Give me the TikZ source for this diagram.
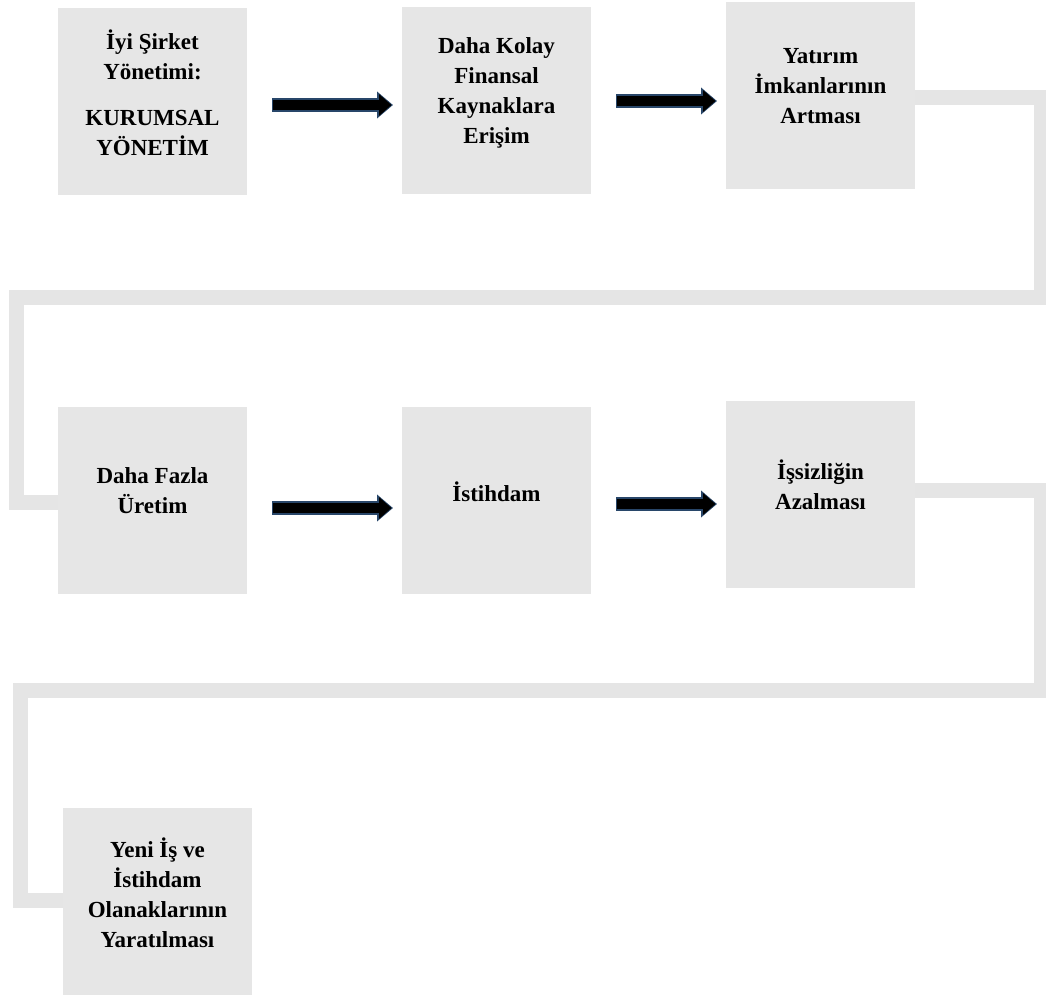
\documentclass[tikz,border=0pt]{standalone}
\usepackage{fontspec}
\setmainfont{Liberation Serif}
\usetikzlibrary{arrows.meta}
\definecolor{boxgray}{RGB}{230,230,230}
\definecolor{linkgray}{RGB}{229,229,229}
\definecolor{arrowedge}{RGB}{40,70,105}
\begin{document}
\begin{tikzpicture}[x=1pt,y=-1pt,
  stage/.style={rectangle, fill=boxgray, draw=none, minimum width=189pt,
    minimum height=187pt, inner sep=0pt, outer sep=0pt},
  caption/.style={align=center, inner sep=0pt,
    font=\fontsize{23}{30}\selectfont\bfseries},
  link/.style={draw=linkgray, line width=15pt, line join=miter},
  flowedge/.style={draw=arrowedge, line width=13.5pt,
    -{Triangle[width=26pt,length=16pt]}, shorten <=25pt, shorten >=9pt},
  flowcore/.style={draw=black, line width=10pt,
    -{Triangle[width=21pt,length=12.5pt]}, shorten <=26pt, shorten >=10.5pt}]
\useasboundingbox (0,0) rectangle (1046,999);

% stages
\node[stage] (b1) at (152.5,101.5) {};
\node[stage] (b2) at (496.5,100) {};
\node[stage] (b3) at (820.5,95.5) {};
\node[stage] (b4) at (152.5,500.5) {};
\node[stage] (b5) at (496.5,500.5) {};
\node[stage] (b6) at (820.5,494) {};
\node[stage] (b7) at (157.5,901.5) {};

% captions
\node[caption] (t1) at ([yshift=9pt]b1.center) {İyi Şirket\\Yönetimi:\\[16pt]KURUMSAL\\YÖNETİM};
\node[caption] (t2) at ([yshift=7pt]b2.center) {Daha Kolay\\Finansal\\Kaynaklara\\Erişim};
\node[caption] (t3) at ([yshift=9pt]b3.center) {Yatırım\\İmkanlarının\\Artması};
\node[caption] (t4) at ([yshift=10pt]b4.center) {Daha Fazla\\Üretim};
\node[caption] (t5) at ([yshift=9pt]b5.center) {İstihdam};
\node[caption] (t6) at ([yshift=9pt]b6.center) {İşsizliğin\\Azalması};
\node[caption] (t7) at ([yshift=9pt]b7.center) {Yeni İş ve\\İstihdam\\Olanaklarının\\Yaratılması};

% wrap-around links between rows
\draw[link] ([yshift=-1.5pt]b3.east) -- (1041,97) -- (1041,297) -- (16,297)
  -- (16,502) -- (b4.west |- 0,502);
\draw[link] ([yshift=4pt]b6.east) -- (1041,490) -- (1041,690) -- (20,690)
  -- (20,900) -- (b7.west |- 0,900);

% arrows within rows
\foreach \a/\b/\dy in {b1/b2/-3.5, b2/b3/-1, b4/b5/-7.5, b5/b6/-3.5} {
  \draw[flowedge] ([yshift=\dy pt]\a.east) -- ([yshift=\dy pt]\a.east -| \b.west);
  \draw[flowcore] ([yshift=\dy pt]\a.east) -- ([yshift=\dy pt]\a.east -| \b.west);
}
\end{tikzpicture}
\end{document}
